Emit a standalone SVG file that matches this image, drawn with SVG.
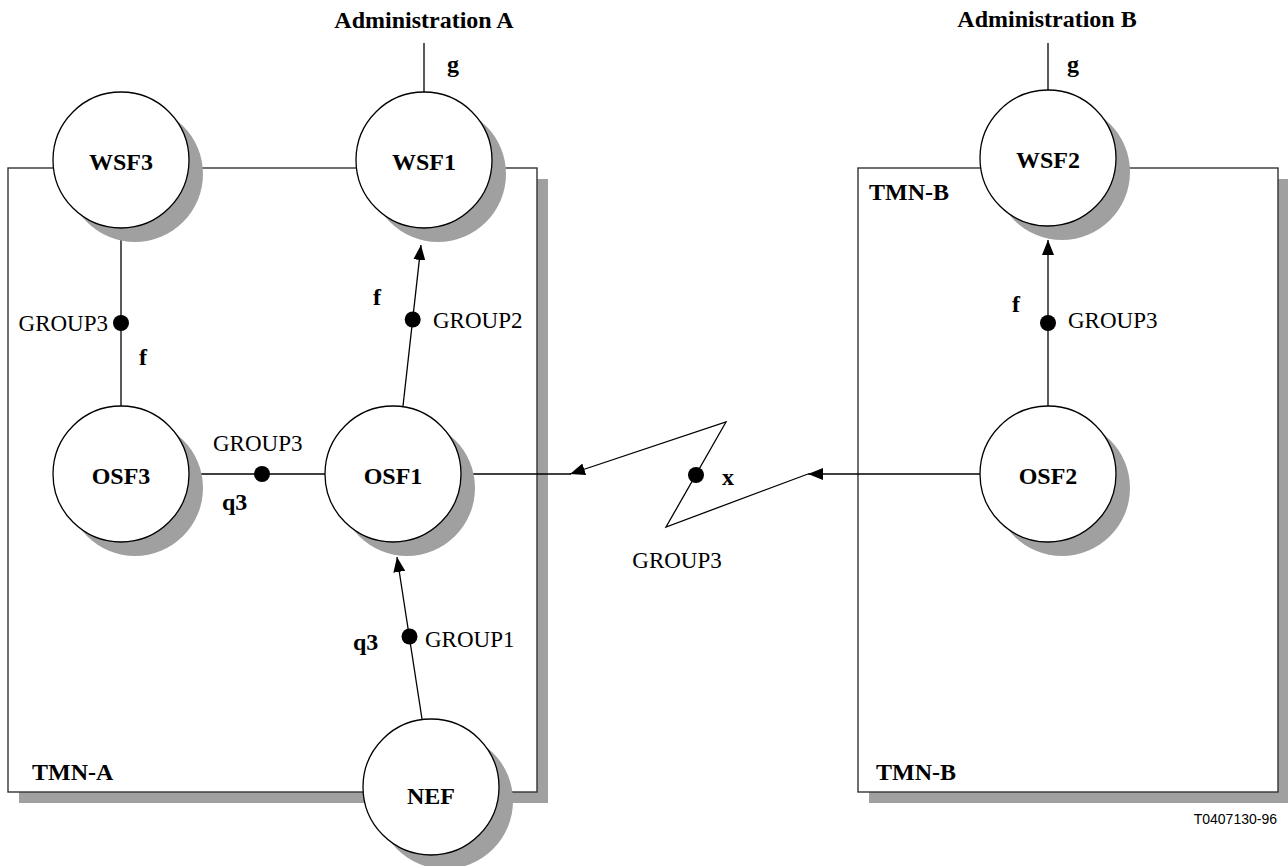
<svg xmlns="http://www.w3.org/2000/svg" width="1288" height="866" viewBox="0 0 1288 866">
<style>
.bg{fill:#ffffff}
.shadow{fill:#a0a0a0;stroke:none}
.box{fill:#ffffff;stroke:#333333;stroke-width:1.4}
.node{fill:#ffffff;stroke:#000000;stroke-width:1.3}
.ln{fill:none;stroke:#000000;stroke-width:1.3}
.dot{fill:#000000}
.b{font-family:"Liberation Serif","Times New Roman",serif;font-weight:bold;font-size:24px;fill:#000}
.r{font-family:"Liberation Serif","Times New Roman",serif;font-size:23px;fill:#000}
.s{font-family:"Liberation Sans",Arial,sans-serif;font-size:14px;fill:#000}
.m{text-anchor:middle}
.e{text-anchor:end}
</style>
<defs>
<marker id="arr" markerWidth="16" markerHeight="12" refX="15" refY="6" orient="auto" markerUnits="userSpaceOnUse">
<path d="M0,0 L15,6 L0,12 z" fill="#000"/>
</marker>
</defs>
<rect class="bg" x="0" y="0" width="1288" height="866"/>

<g id="tmn-a">
<rect class="shadow" x="19" y="179" width="529" height="624"/>
<rect class="box" x="8" y="168" width="529" height="624"/>
<text class="b" x="32" y="780">TMN-A</text>
</g>
<g id="tmn-b">
<rect class="shadow" x="869" y="179" width="420" height="624"/>
<rect class="box" x="858" y="168" width="420" height="624"/>
<text class="b" x="869" y="200">TMN-B</text>
<text class="b" x="876" y="780">TMN-B</text>
</g>

<g id="connectors">
<line class="ln" x1="424" y1="43" x2="424" y2="92"/>
<line class="ln" x1="1048" y1="43" x2="1048" y2="90"/>
<line class="ln" x1="121" y1="228" x2="121" y2="406"/>
<line class="ln" x1="190" y1="474" x2="325" y2="474"/>
<line class="ln" x1="403" y1="406" x2="421" y2="245" marker-end="url(#arr)"/>
<line class="ln" x1="422" y1="719" x2="397" y2="557" marker-end="url(#arr)"/>
<line class="ln" x1="462" y1="474" x2="571" y2="474"/>
<polyline class="ln" points="808,474 666,527 726,422 570,474" marker-end="url(#arr)"/>
<line class="ln" x1="980" y1="474" x2="808" y2="474" marker-end="url(#arr)"/>
<line class="ln" x1="1048" y1="406" x2="1048" y2="240" marker-end="url(#arr)"/>
<circle class="dot" cx="121" cy="323" r="8"/>
<circle class="dot" cx="262" cy="474" r="8"/>
<circle class="dot" cx="412.7" cy="319.5" r="8"/>
<circle class="dot" cx="409.5" cy="636.5" r="8"/>
<circle class="dot" cx="696" cy="475" r="8"/>
<circle class="dot" cx="1048" cy="323" r="8"/>
<text class="b" x="447" y="72">g</text>
<text class="b" x="1067" y="72">g</text>
<text class="r e" x="108" y="331">GROUP3</text>
<text class="b" x="139" y="365">f</text>
<text class="b" x="373" y="305">f</text>
<text class="r" x="433" y="328">GROUP2</text>
<text class="b" x="1012" y="312">f</text>
<text class="r" x="1068" y="328">GROUP3</text>
<text class="r" x="213" y="451">GROUP3</text>
<text class="b" x="222" y="510">q3</text>
<text class="b" x="722" y="485">x</text>
<text class="r m" x="677" y="568">GROUP3</text>
<text class="b" x="353" y="650">q3</text>
<text class="r" x="425" y="647">GROUP1</text>
</g>

<g id="wsf3">
<circle class="shadow" cx="135" cy="174" r="68"/>
<circle class="node" cx="121" cy="160" r="68"/>
<text class="b m" x="121" y="170">WSF3</text>
</g>
<g id="wsf1">
<circle class="shadow" cx="438" cy="174" r="68"/>
<circle class="node" cx="424" cy="160" r="68"/>
<text class="b m" x="424" y="170">WSF1</text>
</g>
<g id="wsf2">
<circle class="shadow" cx="1062" cy="172" r="68"/>
<circle class="node" cx="1048" cy="158" r="68"/>
<text class="b m" x="1048" y="168">WSF2</text>
</g>
<g id="osf3">
<circle class="shadow" cx="135" cy="488" r="68"/>
<circle class="node" cx="121" cy="474" r="68"/>
<text class="b m" x="121" y="484">OSF3</text>
</g>
<g id="osf1">
<circle class="shadow" cx="407" cy="488" r="68"/>
<circle class="node" cx="393" cy="474" r="68"/>
<text class="b m" x="393" y="484">OSF1</text>
</g>
<g id="osf2">
<circle class="shadow" cx="1062" cy="488" r="68"/>
<circle class="node" cx="1048" cy="474" r="68"/>
<text class="b m" x="1048" y="484">OSF2</text>
</g>
<g id="nef">
<circle class="shadow" cx="445" cy="801" r="68"/>
<circle class="node" cx="431" cy="787" r="68"/>
<text class="b m" x="431" y="804">NEF</text>
</g>

<g id="labels">
<text class="b m" x="424" y="28">Administration A</text>
<text class="b m" x="1047" y="27">Administration B</text>
<text class="s e" x="1277" y="824">T0407130-96</text>
</g>
</svg>
